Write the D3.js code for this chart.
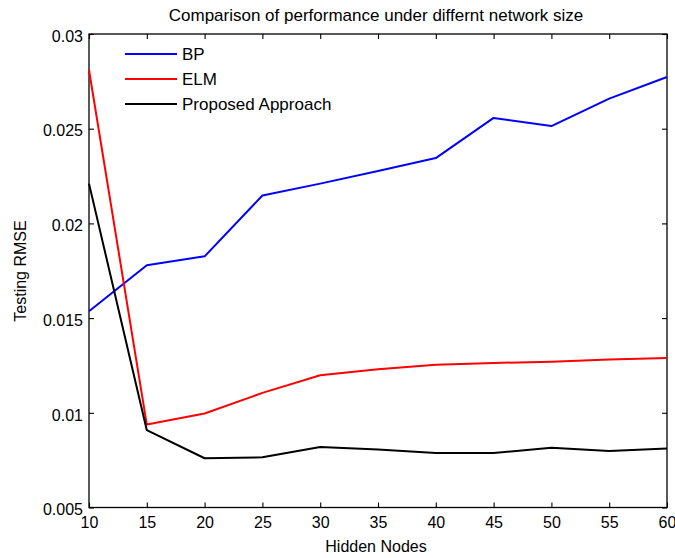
<!DOCTYPE html>
<html>
<head>
<meta charset="utf-8">
<script src="https://cdn.jsdelivr.net/npm/d3@7"></script>
<style>
  html, body { margin: 0; padding: 0; background: #fff; }
  svg { display: block; font-family: "Liberation Sans", Arial, sans-serif; }
</style>
</head>
<body>
<svg id="chart" width="675" height="558"></svg>
<script>
// Hidden node counts on the x axis
const hiddenNodes = [10, 15, 20, 25, 30, 35, 40, 45, 50, 55, 60];

// Testing RMSE for each method
const bpRmse = [0.01536, 0.01779, 0.01826, 0.02147, 0.02210, 0.02277, 0.02345, 0.02557, 0.02514, 0.02659, 0.02773];
const elmRmse = [0.02810, 0.00938, 0.00996, 0.01105, 0.01198, 0.01230, 0.01254, 0.01263, 0.01270, 0.01282, 0.01289];
const proposedRmse = [0.02210, 0.00908, 0.00760, 0.00765, 0.00819, 0.00806, 0.00788, 0.00788, 0.00816, 0.00798, 0.00811];

const seriesNames = ["BP", "ELM", "Proposed Approach"];
const seriesColors = ["#0000ff", "#ff0000", "#000000"];
const seriesValues = [bpRmse, elmRmse, proposedRmse];

// Axis tick values and labels
const xTicks = [10, 15, 20, 25, 30, 35, 40, 45, 50, 55, 60];
const yTicks = [0.005, 0.01, 0.015, 0.02, 0.025, 0.03];
const yTickLabels = ["0.005", "0.01", "0.015", "0.02", "0.025", "0.03"];

const titleText = "Comparison of performance under differnt network size";
const xLabel = "Hidden Nodes";
const yLabel = "Testing RMSE";

const svg = d3.select("#chart");
const plot = { left: 89, right: 667, top: 34, bottom: 507.5 };

const x = d3.scaleLinear().domain([10, 60]).range([plot.left, plot.right]);
const y = d3.scaleLinear().domain([0.005, 0.03]).range([plot.bottom, plot.top]);

const tickLen = 5;
const fontSize = 16;
const bigFont = 17;
const fontFamily = "Liberation Sans, Arial, sans-serif";

// Box frame
svg.append("rect")
  .attr("x", plot.left).attr("y", plot.top)
  .attr("width", plot.right - plot.left).attr("height", plot.bottom - plot.top)
  .attr("fill", "none").attr("stroke", "#000").attr("stroke-width", 1.3);

// Bottom axis (ticks pointing inward)
const xAxisBottom = d3.axisBottom(x).tickValues(xTicks).tickSizeInner(-tickLen).tickSizeOuter(0).tickPadding(9)
  .tickFormat(d3.format("d"));
const gxb = svg.append("g").attr("transform", `translate(0,${plot.bottom})`).call(xAxisBottom);
gxb.select(".domain").remove();
gxb.selectAll("line").attr("stroke", "#000").attr("stroke-width", 1.1);
gxb.selectAll("text").attr("font-size", fontSize).attr("font-family", fontFamily).attr("fill", "#000");

// Top axis mirrors the ticks without labels
const xAxisTop = d3.axisTop(x).tickValues(xTicks).tickSizeInner(-tickLen).tickSizeOuter(0).tickFormat("");
const gxt = svg.append("g").attr("transform", `translate(0,${plot.top})`).call(xAxisTop);
gxt.select(".domain").remove();
gxt.selectAll("line").attr("stroke", "#000").attr("stroke-width", 1.1);

// Left axis
const yAxisLeft = d3.axisLeft(y).tickValues(yTicks).tickSizeInner(-tickLen).tickSizeOuter(0).tickPadding(6)
  .tickFormat((d, i) => yTickLabels[i]);
const gyl = svg.append("g").attr("transform", `translate(${plot.left},0)`).call(yAxisLeft);
gyl.select(".domain").remove();
gyl.selectAll("line").attr("stroke", "#000").attr("stroke-width", 1.1);
gyl.selectAll("text").attr("font-size", fontSize).attr("font-family", fontFamily).attr("fill", "#000")
  .attr("dy", "0.45em");

// Right axis mirrors the ticks
const yAxisRight = d3.axisRight(y).tickValues(yTicks).tickSizeInner(-tickLen).tickSizeOuter(0).tickFormat("");
const gyr = svg.append("g").attr("transform", `translate(${plot.right},0)`).call(yAxisRight);
gyr.select(".domain").remove();
gyr.selectAll("line").attr("stroke", "#000").attr("stroke-width", 1.1);

// Series lines
const line = d3.line().x((d, i) => x(hiddenNodes[i])).y(d => y(d));
seriesValues.forEach((vals, k) => {
  svg.append("path")
    .datum(vals)
    .attr("d", line)
    .attr("fill", "none")
    .attr("stroke", seriesColors[k])
    .attr("stroke-width", 2)
    .attr("stroke-linejoin", "round");
});

// Legend
const legend = svg.append("g").attr("transform", "translate(125,54)");
seriesNames.forEach((name, k) => {
  const row = legend.append("g").attr("transform", `translate(0,${k * 25})`);
  row.append("line").attr("x1", 0).attr("x2", 52).attr("y1", 0).attr("y2", 0)
    .attr("stroke", seriesColors[k]).attr("stroke-width", 2);
  row.append("text").attr("x", 57).attr("y", 0).attr("dy", "0.36em")
    .attr("font-size", bigFont).attr("fill", "#000").text(name);
});

// Title and axis labels
svg.append("text").attr("x", 376).attr("y", 21).attr("text-anchor", "middle")
  .attr("font-size", bigFont).attr("fill", "#000").text(titleText);
svg.append("text").attr("x", 376).attr("y", 552).attr("text-anchor", "middle")
  .attr("font-size", fontSize).attr("fill", "#000").text(xLabel);
svg.append("text").attr("transform", "translate(26,271) rotate(-90)").attr("text-anchor", "middle")
  .attr("font-size", fontSize).attr("fill", "#000").text(yLabel);
</script>
</body>
</html>
